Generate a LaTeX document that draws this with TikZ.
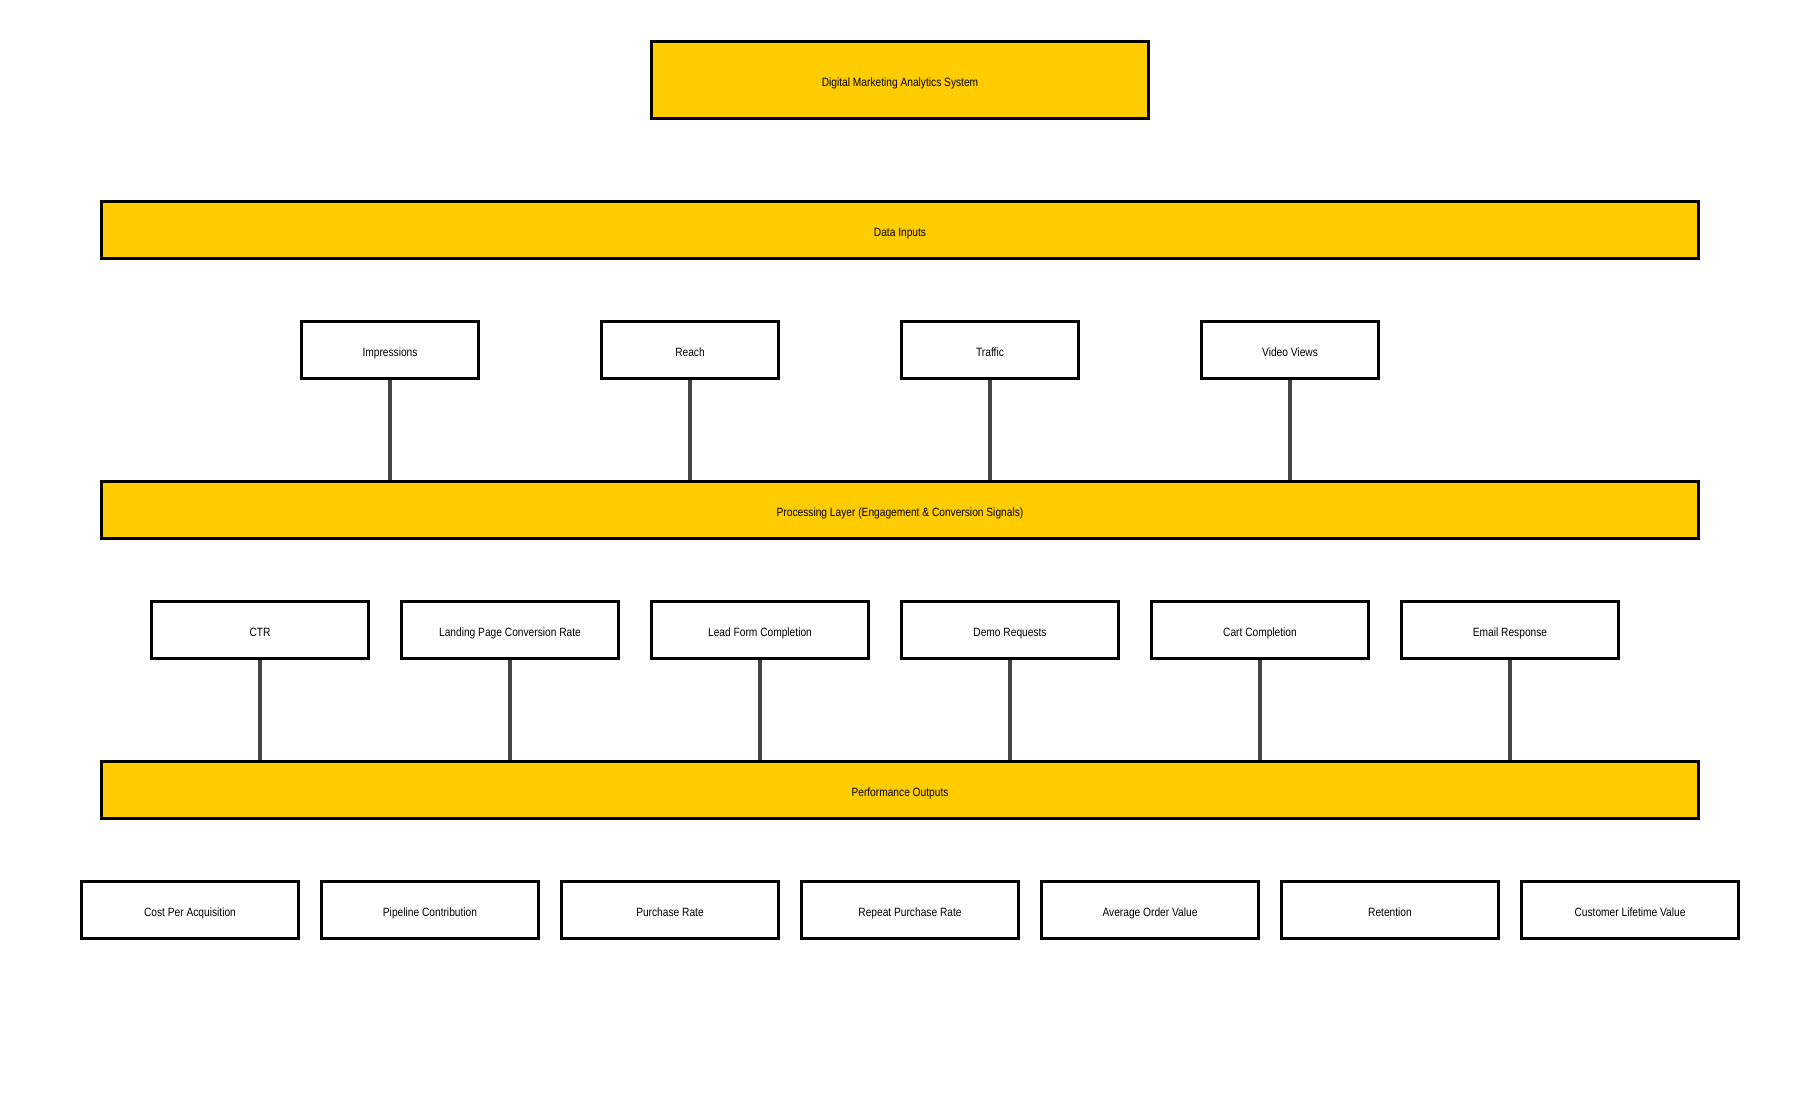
\documentclass[tikz,border=0pt]{standalone}
\usepackage{fontspec}
\setmainfont{Liberation Sans}[FakeStretch=0.85]
\definecolor{barYellow}{HTML}{FFCC00}
\definecolor{linkGray}{HTML}{444444}
\begin{document}
\begin{tikzpicture}[x=1pt,y=-1pt,
  every node/.style={font=\fontsize{12}{14}\selectfont, text=black, inner sep=0pt, outer sep=0pt, text height=12pt, text depth=0pt},
  barbox/.style={draw=black, line width=3pt, fill=barYellow, rectangle, minimum width=1597pt, minimum height=57pt},
  titlebox/.style={draw=black, line width=3pt, fill=barYellow, rectangle, minimum width=497pt, minimum height=77pt},
  smallbox/.style={draw=black, line width=3pt, fill=white, rectangle, minimum width=177pt, minimum height=57pt},
  widebox/.style={draw=black, line width=3pt, fill=white, rectangle, minimum width=217pt, minimum height=57pt},
  link/.style={draw=linkGray, line width=3.5pt}
]
\useasboundingbox[fill=white] (0,0) rectangle (1800,1100);

\node[titlebox] (title) at (900,80) {Digital Marketing Analytics System};
\node[barbox] (inputs) at (900,230) {Data Inputs};
\node[barbox] (proc) at (900,510) {Processing Layer (Engagement \& Conversion Signals)};
\node[barbox] (perf) at (900,790) {Performance Outputs};

\node[smallbox] (imp) at (390,350) {Impressions};
\node[smallbox] (reach) at (690,350) {Reach};
\node[smallbox] (traffic) at (990,350) {Traffic};
\node[smallbox] (video) at (1290,350) {Video Views};

\node[widebox] (ctr) at (260,630) {CTR};
\node[widebox] (lpcr) at (510,630) {Landing Page Conversion Rate};
\node[widebox] (lead) at (760,630) {Lead Form Completion};
\node[widebox] (demo) at (1010,630) {Demo Requests};
\node[widebox] (cart) at (1260,630) {Cart Completion};
\node[widebox] (email) at (1510,630) {Email Response};

\node[widebox] (cpa) at (190,910) {Cost Per Acquisition};
\node[widebox] (pipe) at (430,910) {Pipeline Contribution};
\node[widebox] (purch) at (670,910) {Purchase Rate};
\node[widebox] (repeat) at (910,910) {Repeat Purchase Rate};
\node[widebox] (aov) at (1150,910) {Average Order Value};
\node[widebox] (ret) at (1390,910) {Retention};
\node[widebox] (clv) at (1630,910) {Customer Lifetime Value};

\foreach \n in {imp,reach,traffic,video}
  \draw[link] ([yshift=-1.5pt]\n.south) -- ([yshift=1.5pt]\n.south |- proc.north);
\foreach \n in {ctr,lpcr,lead,demo,cart,email}
  \draw[link] ([yshift=-1.5pt]\n.south) -- ([yshift=1.5pt]\n.south |- perf.north);
\end{tikzpicture}
\end{document}
